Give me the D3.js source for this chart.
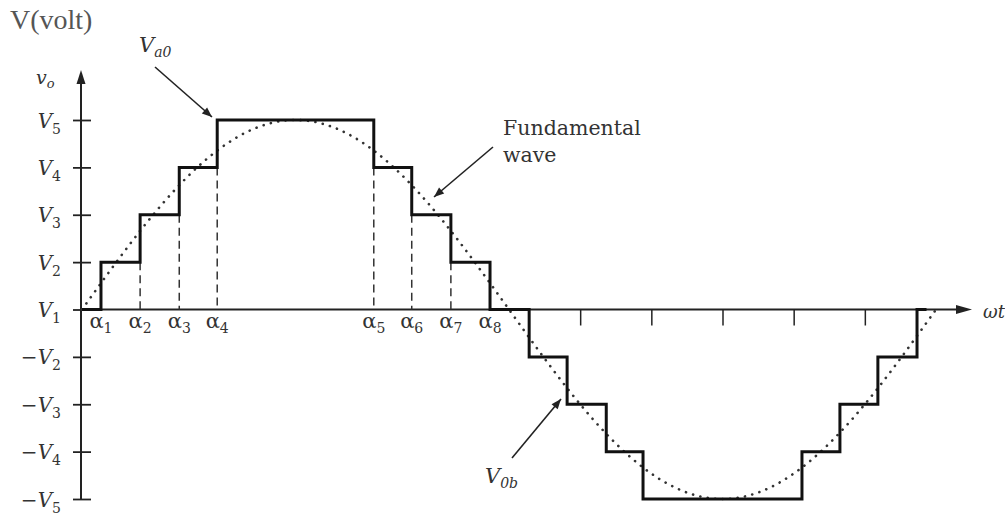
<!DOCTYPE html>
<html>
<head>
<meta charset="utf-8">
<script src="https://cdn.jsdelivr.net/npm/d3@7"></script>
<style>
  html, body { margin: 0; padding: 0; background: #fff; }
  svg { display: block; }
  svg text, svg tspan { font-family: "DejaVu Serif", "Liberation Serif", serif; }
</style>
</head>
<body>
<svg id="chart" width="1005" height="515"></svg>
<script>
// Switching angles (degrees of ωt) and the output levels of the staircase
const posAngles = [0, 8, 24.5, 41, 57, 123, 139, 155.5, 172];
const posLevels = [0, 1, 2, 3, 4, 3, 2, 1, 0];
const negAngles = [188.5, 204.5, 221, 236.5, 303.5, 319.5, 335.5, 352];
const negLevels = [-1, -2, -3, -4, -3, -2, -1, 0];
const endAngle = 356;

// Angle labels under the time axis (positive half cycle)
const alphaNames = ["1", "2", "3", "4", "5", "6", "7", "8"];
const alphaAngles = posAngles.slice(1);

// Plain tick marks on the ωt axis (negative half cycle)
const xTicks = [210, 240, 270, 300, 330];

// Voltage levels and their names
const yLevels = [4, 3, 2, 1, 0, -1, -2, -3, -4];
const yNames = [
  ["", "5"], ["", "4"], ["", "3"], ["", "2"], ["", "1"],
  ["\u2212", "2"], ["\u2212", "3"], ["\u2212", "4"], ["\u2212", "5"]
];
const fundamentalPeak = 4;

const serif = "'DejaVu Serif', 'Liberation Serif', serif";
const times = "'Liberation Serif', serif";
const svg = d3.select("#chart");
const ink = "#222";

const x = d3.scaleLinear().domain([0, 360]).range([82, 936]);
const y = d3.scaleLinear().domain([-4, 4]).range([499, 120]);

// ---- axes ----
const x0 = 81;
svg.append("line").attr("x1", x0).attr("x2", x0)
  .attr("y1", y(-4)).attr("y2", 80)
  .attr("stroke", ink).attr("stroke-width", 2);
svg.append("path")
  .attr("d", `M${x0},70 L${x0 - 4.5},84 L${x0 + 4.5},84 Z`)
  .attr("fill", ink);

svg.append("line").attr("x1", x0).attr("x2", 960)
  .attr("y1", y(0)).attr("y2", y(0))
  .attr("stroke", ink).attr("stroke-width", 2);
svg.append("path")
  .attr("d", `M972,${y(0)} L956,${y(0) - 4.5} L956,${y(0) + 4.5} Z`)
  .attr("fill", ink);

// y axis ticks and labels built with d3.axisLeft
const yAxis = d3.axisLeft(y).tickValues(yLevels).tickSize(0).tickFormat("");
const gY = svg.append("g").attr("transform", `translate(${x0},0)`).call(yAxis);
gY.attr("font-family", null).attr("font-size", null);
gY.select(".domain").remove();
gY.selectAll(".tick line").remove();
gY.selectAll(".tick").append("line")
  .attr("x1", -8).attr("x2", 10)
  .attr("stroke", ink).attr("stroke-width", 1.8);
gY.selectAll(".tick text").remove();
gY.selectAll(".tick").each(function (d, i) {
  const t = d3.select(this).append("text")
    .attr("x", -20).attr("y", 7)
    .attr("text-anchor", "end")
    .attr("fill", "#333")
    .style("font-family", serif)
    .style("font-size", "20px");
  if (yNames[i][0]) t.append("tspan").text(yNames[i][0]);
  t.append("tspan").style("font-style", "italic").text("V");
  t.append("tspan").attr("dy", 6).style("font-size", "14px").text(yNames[i][1]);
});

// x axis ticks
const xAxis = d3.axisBottom(x).tickValues(xTicks).tickSize(16).tickFormat("");
const gX = svg.append("g").attr("transform", `translate(0,${y(0)})`).call(xAxis);
gX.select(".domain").remove();
gX.selectAll(".tick line").attr("stroke", ink).attr("stroke-width", 1.5);

// ---- dashed guides at the switching angles ----
posAngles.forEach((a, i) => {
  if (i === 0) return;
  const top = Math.min(posLevels[i - 1], posLevels[i]);
  if (top <= 0) return;
  svg.append("line")
    .attr("x1", x(a)).attr("x2", x(a))
    .attr("y1", y(top)).attr("y2", y(0))
    .attr("stroke", "#333").attr("stroke-width", 1.5)
    .attr("stroke-dasharray", "8,5");
});

// ---- fundamental wave (dotted) ----
const sinePts = d3.range(0, 361, 1).map(a => [a, fundamentalPeak * Math.sin(a * Math.PI / 180)]);
svg.append("path")
  .datum(sinePts)
  .attr("d", d3.line().x(d => x(d[0])).y(d => y(d[1])))
  .attr("fill", "none")
  .attr("stroke", "#333")
  .attr("stroke-width", 2.6)
  .attr("stroke-linecap", "round")
  .attr("stroke-dasharray", "0.1,7.4");

// ---- staircase output ----
const steps = posAngles.map((a, i) => [a, posLevels[i]])
  .concat(negAngles.map((a, i) => [a, negLevels[i]]))
  .concat([[endAngle, 0]]);
svg.append("path")
  .datum(steps)
  .attr("d", d3.line().x(d => x(d[0])).y(d => y(d[1])).curve(d3.curveStepAfter))
  .attr("fill", "none")
  .attr("stroke", "#111")
  .attr("stroke-width", 3)
  .attr("stroke-linejoin", "miter");

// ---- alpha labels ----
alphaAngles.forEach((a, i) => {
  const t = svg.append("text")
    .attr("x", x(a)).attr("y", 328)
    .attr("text-anchor", "middle")
    .attr("fill", "#333")
    .style("font-family", serif)
    .style("font-size", "21px");
  t.append("tspan").text("\u03b1");
  t.append("tspan").attr("dy", 5).style("font-size", "14px").text(alphaNames[i]);
});

// ---- titles and annotations ----
function label(xp, yp, size, family) {
  return svg.append("text").attr("x", xp).attr("y", yp)
    .attr("fill", "#333")
    .style("font-family", family || serif)
    .style("font-size", size + "px");
}

label(10, 29, 28, times).attr("fill", "#555").text("V(volt)");

const vo = label(36, 84, 19).style("font-style", "italic");
vo.append("tspan").text("v");
vo.append("tspan").attr("dy", 4).style("font-size", "13px").text("o");

label(983, 318, 18).style("font-style", "italic").text("\u03c9t");

const va = label(139, 52, 21).style("font-style", "italic");
va.append("tspan").text("V");
va.append("tspan").attr("dy", 5).style("font-size", "14px").text("a0");

const vb = label(485, 483, 21).style("font-style", "italic");
vb.append("tspan").text("V");
vb.append("tspan").attr("dy", 5).style("font-size", "14px").text("0b");

label(503, 135, 20.5).text("Fundamental");
label(503, 162, 20.5).text("wave");

// arrows
const defs = svg.append("defs");
defs.append("marker")
  .attr("id", "head").attr("viewBox", "0 0 10 10")
  .attr("refX", 10).attr("refY", 5)
  .attr("markerWidth", 12).attr("markerHeight", 10)
  .attr("markerUnits", "userSpaceOnUse")
  .attr("orient", "auto")
  .append("path").attr("d", "M0,1 L10,5 L0,9 Z").attr("fill", "#222");

const arrows = [
  [155, 67, 212, 117],
  [493, 147, 434, 197],
  [512, 458, 561, 399]
];
arrows.forEach(a => {
  svg.append("line")
    .attr("x1", a[0]).attr("y1", a[1]).attr("x2", a[2]).attr("y2", a[3])
    .attr("stroke", "#222").attr("stroke-width", 1.6)
    .attr("marker-end", "url(#head)");
});
</script>
</body>
</html>
